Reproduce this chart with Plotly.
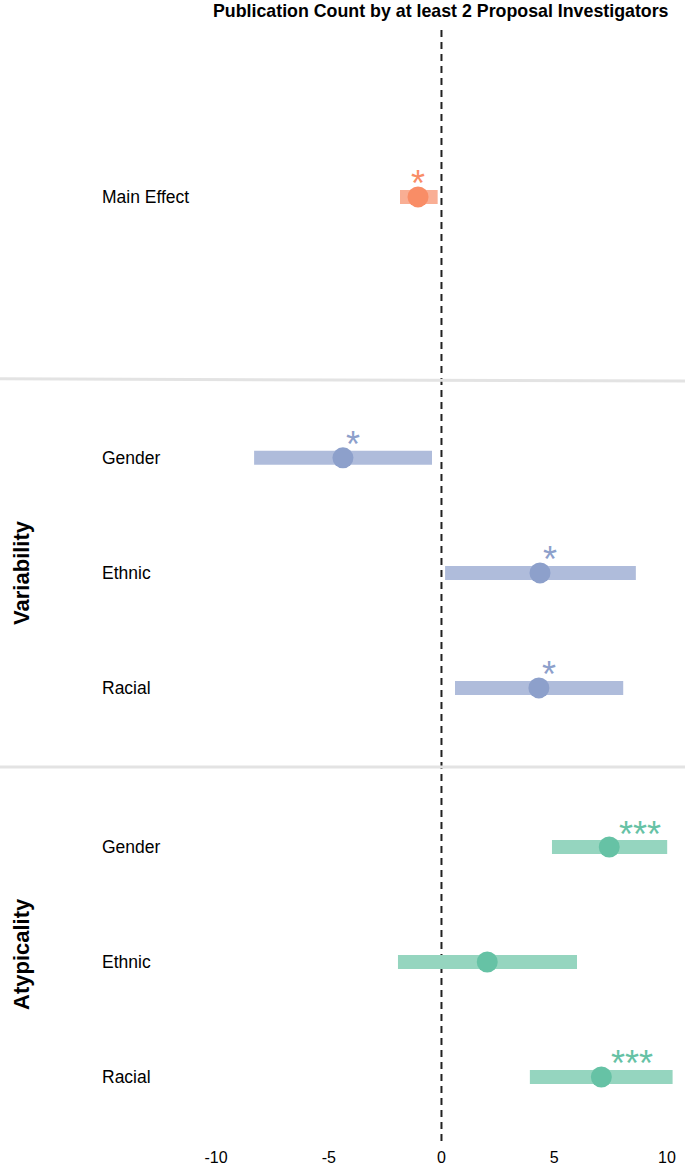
import pandas as pd
import plotly.graph_objects as go

# values
groups = ['Main Effect', 'Variability', 'Variability', 'Variability',
          'Atypicality', 'Atypicality', 'Atypicality']
terms = ['Main Effect', 'Gender', 'Ethnic', 'Racial', 'Gender', 'Ethnic', 'Racial']
estimate = [-1.04, -4.37, 4.37, 4.32, 7.44, 2.03, 7.09]
ci_low = [-1.84, -8.31, 0.16, 0.60, 4.90, -1.93, 3.92]
ci_high = [-0.17, -0.42, 8.62, 8.06, 10.01, 6.01, 10.25]
stars = ['*', '*', '*', '*', '***', '', '***']
x_ticks = [-10, -5, 0, 5, 10]
x_tick_text = ['-10', '-5', '0', '5', '10']

df = pd.DataFrame({'group': groups, 'term': terms, 'est': estimate,
                   'lo': ci_low, 'hi': ci_high, 'sig': stars})

W, H = 685, 1166
FONT = 'Liberation Sans, Arial, Helvetica, sans-serif'

# one y axis per panel, all sharing the same x axis
panel = {
    'Main Effect': dict(axis='y', point='#F98D66', bar='#F9AE94', star_dx=0),
    'Variability': dict(axis='y2', point='#8DA0CB', bar='#AFBCDB', star_dx=10),
    'Atypicality': dict(axis='y3', point='#66C2A5', bar='#95D5BF', star_dx=31),
}

fig = go.Figure()
annotations = []

for g, sub in df.groupby('group', sort=False):
    p = panel[g]
    for _, r in sub.iterrows():
        # confidence interval as a thick bar
        fig.add_trace(go.Scatter(x=[r['lo'], r['hi']], y=[r['term'], r['term']],
                                 mode='lines', yaxis=p['axis'],
                                 line=dict(color=p['bar'], width=14),
                                 hoverinfo='skip', showlegend=False))
        fig.add_trace(go.Scatter(x=[r['est']], y=[r['term']], mode='markers',
                                 yaxis=p['axis'],
                                 marker=dict(color=p['point'], size=21, line=dict(width=0)),
                                 showlegend=False))
        if r['sig']:
            annotations.append(dict(x=r['est'], y=r['term'], xref='x', yref=p['axis'],
                                    text=r['sig'], showarrow=False,
                                    xshift=p['star_dx'], yshift=13,
                                    font=dict(size=36, color=p['point'], family=FONT)))
        annotations.append(dict(x=100 / W, y=r['term'], xref='paper', yref=p['axis'],
                                text=r['term'], showarrow=False, xanchor='left',
                                font=dict(size=17.5, color='black', family=FONT)))

# rotated panel headings
for g in ['Variability', 'Atypicality']:
    annotations.append(dict(x=22 / W, y=0.5, xref='paper', yref=panel[g]['axis'] + ' domain',
                            xanchor='center', yanchor='middle',
                            text='<b>' + g + '</b>', textangle=-90, showarrow=False,
                            font=dict(size=22, color='black', family=FONT)))

annotations.append(dict(x=441 / W, y=1.0, xref='paper', yref='paper', xanchor='center',
                        yanchor='top', yshift=1,
                        text='<b>Publication Count by at least 2 Proposal Investigators</b>',
                        showarrow=False, font=dict(size=17.8, color='black', family=FONT)))

fig.update_layout(
    width=W, height=H,
    margin=dict(l=0, r=0, t=0, b=25),
    paper_bgcolor='white', plot_bgcolor='white',
    font=dict(family=FONT, color='black'),
    annotations=annotations,
    xaxis=dict(range=[-19.58, 10.8], anchor='y3', tickvals=x_ticks, ticktext=x_tick_text,
               showgrid=False, zeroline=False, showline=False, ticks='',
               ticklabelstandoff=5, automargin=False,
               tickfont=dict(size=16, color='black')),
    yaxis=dict(domain=[0.668, 1], type='category', range=[1.583, -1.713],
               showticklabels=False, showgrid=False, zeroline=False),
    yaxis2=dict(domain=[0.3278, 0.668], type='category', range=[2.687, -0.687],
                showticklabels=False, showgrid=False, zeroline=False),
    yaxis3=dict(domain=[0, 0.3278], type='category', range=[2.557, -0.696],
                showticklabels=False, showgrid=False, zeroline=False),
    shapes=[
        dict(type='line', xref='x', yref='paper', x0=0, x1=0, y0=0, y1=(1141 - 28) / 1141,
             line=dict(color='#222222', width=2, dash='7px,5px'), layer='below'),
        dict(type='line', xref='paper', yref='paper', x0=0, x1=1, y0=0.668, y1=0.666,
             line=dict(color='#E3E3E3', width=3)),
        dict(type='line', xref='paper', yref='paper', x0=0, x1=1, y0=0.3278, y1=0.3278,
             line=dict(color='#E3E3E3', width=3)),
    ],
)

# drop the default page margin so the figure sits flush in the window
fig.write_html('out.html', config={'displayModeBar': False},
               post_script="document.body.style.margin='0px';")
